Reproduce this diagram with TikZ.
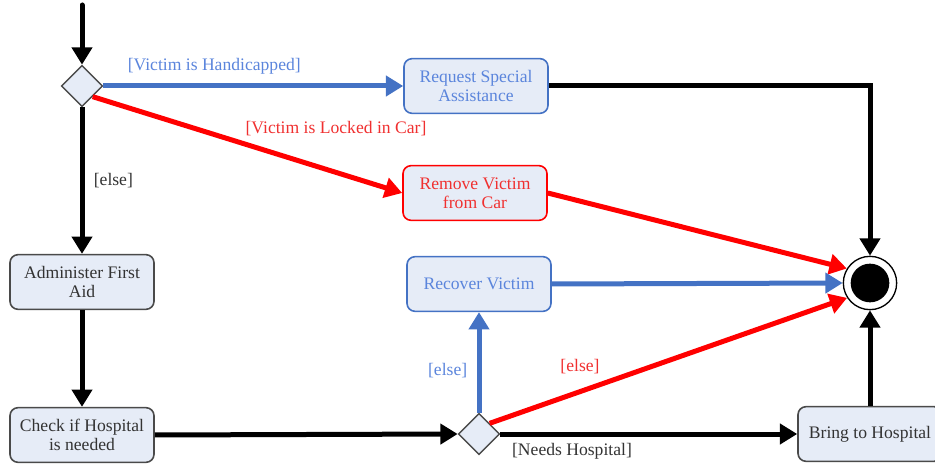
\documentclass[tikz,border=0pt]{standalone}
\usepackage{fontspec}
\setmainfont{Liberation Serif}
\usetikzlibrary{shapes.geometric,arrows.meta}
\definecolor{boxfill}{HTML}{E6ECF7}
\definecolor{flowblue}{HTML}{4472C4}
\definecolor{textblue}{HTML}{5B85DC}
\definecolor{flowred}{HTML}{FF0000}
\definecolor{textred}{HTML}{F03030}
\definecolor{edgegray}{HTML}{4A4A4A}
\definecolor{textgray}{HTML}{333333}
\begin{document}
\begin{tikzpicture}[x=0.75pt,y=-0.75pt,
  font=\fontsize{13.2}{14.5}\selectfont,
  action/.style={draw=edgegray, line width=1.2pt, fill=boxfill, rounded corners=6pt,
    minimum width=108pt, minimum height=41pt, align=center, text=textgray, inner sep=2pt},
  bluebox/.style={action, draw=flowblue, text=textblue},
  redbox/.style={action, draw=flowred, text=textred},
  decision/.style={diamond, draw=edgegray, line width=1pt, fill=boxfill,
    minimum width=31pt, minimum height=31pt, inner sep=0pt},
  flow/.style={line width=3.75pt, -{Triangle[length=13pt,width=15pt]}},
  bflow/.style={flow, color=flowblue},
  rflow/.style={flow, color=flowred},
  guard/.style={text=textgray, inner sep=1pt},
  bguard/.style={text=textblue, inner sep=1pt},
  rguard/.style={text=textred, inner sep=1pt},
]
\useasboundingbox (0,0) rectangle (935,466);

% nodes
\coordinate (start) at (82,5);
\node[decision] (d1) at (82,86) {};
\node[bluebox] (rsa) at (476,86) {Request Special\\Assistance};
\node[redbox] (rvc) at (475,193) {Remove Victim\\from Car};
\node[bluebox] (rec) at (479,284) {Recover Victim};
\node[action] (afa) at (82,282) {Administer First\\Aid};
\node[action] (chk) at (82,435) {Check if Hospital\\is needed};
\node[decision] (d2) at (479,434) {};
\node[action] (bth) at (870,434) {Bring to Hospital};
\node[circle, draw=black, line width=1pt, fill=white, minimum size=40pt, inner sep=0pt] (end) at (870,283) {};
\node[circle, fill=black, minimum size=29pt, inner sep=0pt] (enddot) at (end) {};

% connectors
\draw[flow, line cap=round] (start) -- (d1.north);
\draw[bflow] (d1.east) -- node[bguard, above=6pt, pos=0.37] {[Victim is Handicapped]} (rsa.west);
\draw[rflow] (d1.south east) -- (rvc.west);
\node[rguard] (lockedlbl) at (336,129) {[Victim is Locked in Car]};
\draw[flow] (d1.south) -- node[guard, right=6pt, pos=0.5] {[else]} (afa.north);
\draw[flow] (rsa.east) -| (end.north);
\draw[rflow] (rvc.east) -- (end.148);
\draw[bflow] (rec.east) -- (end.west);
\draw[flow] (afa.south) -- (chk.north);
\draw[flow] (chk.east) -- (d2.west);
\draw[bflow] (d2.north) -- node[bguard, left=6pt, pos=0.42] {[else]} (rec.south);
\draw[rflow] (d2.north east) -- (end.213);
\node[rguard] (elselbl) at (580,367) {[else]};
\draw[flow] (d2.east) -- (bth.west);
\node[guard] (needslbl) at (572,451) {[Needs Hospital]};
\draw[flow] (bth.north) -- (end.south);
\end{tikzpicture}
\end{document}
